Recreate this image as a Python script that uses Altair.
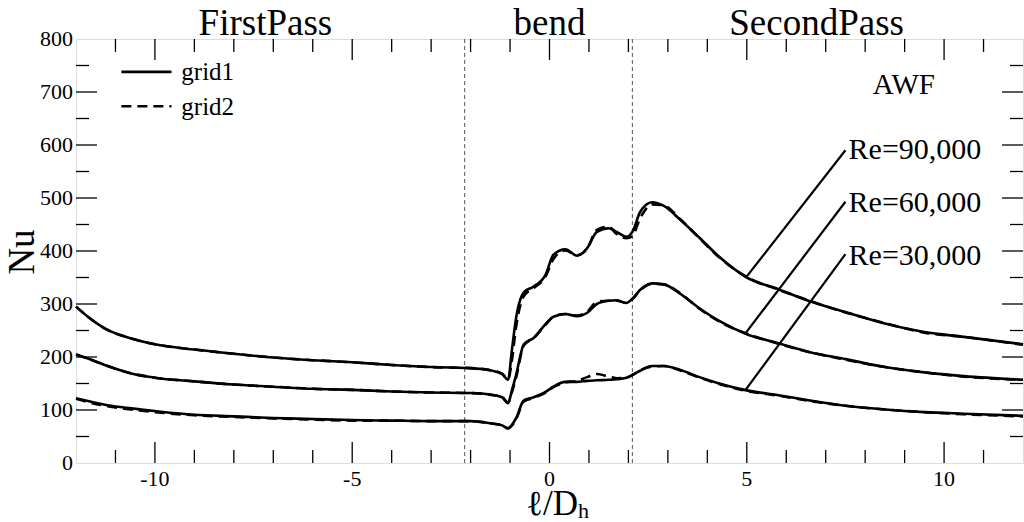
import altair as alt
import pandas as pd

# Streamwise stations l/Dh shared by all Nusselt profiles
xpos = [-12, -11.7, -11.2, -10.6, -10, -9, -8, -7, -6, -5,
        -4, -3, -2, -1.5, -1.2, -1.05, -0.95, -0.85, -0.65, -0.4,
        -0.1, 0.1, 0.4, 0.7, 0.95, 1.2, 1.5, 1.7, 1.95, 2.1,
        2.3, 2.6, 2.9, 3.3, 3.8, 4.3, 5, 5.8, 6.6, 7.5,
        8.5, 9.5, 10.5, 12]

# Re = 90,000
nu90_grid1 = [295, 276, 251, 235, 224, 214, 206, 199, 194, 190,
              185, 181, 179, 175, 168, 157, 215, 272, 322, 333,
              355, 393, 403, 391, 405, 436, 443, 436, 427, 436,
              474, 492, 485, 460, 425, 389, 350, 328, 305, 285,
              263, 247, 238, 224]
nu90_grid2 = [295, 276, 251, 235, 224, 214, 206, 199, 194, 190,
              185, 181, 179, 175, 168, 158, 195, 255, 315, 330,
              352, 385, 401, 392, 404, 440, 446, 432, 424, 428,
              462, 488, 486, 461, 424, 388, 351, 327, 306, 284,
              264, 246, 238, 223]

# Re = 60,000
nu60_grid1 = [205, 197, 183, 169, 161, 154, 148, 144, 140, 138,
              135, 133, 132, 129, 124, 113, 138, 165, 224, 236,
              262, 276, 281, 277, 283, 300, 306, 307, 302, 310,
              327, 339, 337, 320, 292, 268, 243, 226, 209, 196,
              181, 171, 164, 157]
nu60_grid2 = [205, 197, 183, 169, 161, 154, 148, 144, 140, 138,
              135, 133, 132, 129, 124, 114, 134, 160, 222, 236,
              261, 276, 281, 278, 285, 304, 306, 306, 302, 309,
              326, 338, 337, 321, 291, 267, 244, 225, 209, 195,
              181, 171, 163, 157]

# Re = 30,000
nu30_grid1 = [122, 117, 109, 103, 98, 91, 88, 85, 83, 81,
              80, 79, 79, 75, 71, 65, 72, 84, 118, 124,
              134, 144, 153, 153, 155, 156, 157, 158, 161, 166,
              174, 183, 183, 176, 162, 150, 137, 128, 118, 108,
              101, 96, 93, 89]
nu30_grid2 = [121, 115, 107, 101, 96, 90, 87, 84, 82, 80,
              80, 79, 79, 75, 71, 66, 71, 82, 116, 123,
              133, 143, 152, 155, 162, 168, 163, 160, 161, 166,
              175, 182, 183, 175, 161, 149, 136, 127, 117, 108,
              101, 96, 92, 88]

# Section boundaries and section names
bounds = [-2.15, 2.1]
sections = ["FirstPass", "bend", "SecondPass"]
section_x = [-7.2, 0.0, 6.77]

# Tick positions and tick labels
x_major = [-10, -5, 0, 5, 10]
x_major_labels = ["-10", "-5", "0", "5", "10"]
x_minor = [-11, -9, -8, -7, -6, -4, -3, -2, -1, 1, 2, 3, 4, 6, 7, 8, 9, 11]
y_major = [100, 200, 300, 400, 500, 600, 700]
y_minor = [50, 150, 250, 350, 450, 550, 650, 750]
y_labels = [0, 100, 200, 300, 400, 500, 600, 700, 800]

# Reynolds-number callouts: label anchor and the point on each curve
re_labels = ["Re=90,000", "Re=60,000", "Re=30,000"]
re_text_x = [7.58, 7.58, 7.58]
re_text_y = [573, 473, 373]
lead_x0 = [7.5, 7.5, 7.5]
lead_y0 = [590, 493, 394]
lead_x1 = [5.0, 4.96, 4.96]
lead_y1 = [352, 244, 137]

# Legend entries
legend_names = ["grid1", "grid2"]
legend_line_x = [-10.85, -9.58]
legend_y = [738, 673]
legend_text_x = -9.33
legend_text_y = [722, 657]

W, H = 947, 424
FONT = "Liberation Serif"

rows = []
for name, g1, g2 in [("Re=90,000", nu90_grid1, nu90_grid2),
                     ("Re=60,000", nu60_grid1, nu60_grid2),
                     ("Re=30,000", nu30_grid1, nu30_grid2)]:
    for x, a, b in zip(xpos, g1, g2):
        rows.append({"l": x, "Re": name, "grid": "grid1", "Nu": a})
        rows.append({"l": x, "Re": name, "grid": "grid2", "Nu": b})
df = pd.DataFrame(rows)

xs = alt.Scale(domain=[-12, 12], nice=False, zero=False)
ys = alt.Scale(domain=[0, 800], nice=False)


def X(field):
    return alt.X(field, scale=xs, axis=None)


def Y(field):
    return alt.Y(field, scale=ys, axis=None)


solid = alt.Chart(df).transform_filter("datum.grid == 'grid1'").mark_line(
    color="black", strokeWidth=2.6, interpolate="monotone"
).encode(x=X("l:Q"), y=Y("Nu:Q"), detail="Re:N")

dashed = alt.Chart(df).transform_filter("datum.grid == 'grid2'").mark_line(
    color="black", strokeWidth=2.6, strokeDash=[10, 6], interpolate="monotone"
).encode(x=X("l:Q"), y=Y("Nu:Q"), detail="Re:N")

bound_rules = alt.Chart(pd.DataFrame({"b": bounds})).mark_rule(
    color="#555555", strokeWidth=1, strokeDash=[4, 3]
).encode(x=X("b:Q"))

xmaj = pd.DataFrame({"t": x_major, "lab": x_major_labels})
xmin = pd.DataFrame({"t": x_minor})
ymaj = pd.DataFrame({"t": y_major})
ymin = pd.DataFrame({"t": y_minor})
ylab = pd.DataFrame({"t": y_labels, "lab": [str(v) for v in y_labels]})


def xticks(d, y0, y1):
    return alt.Chart(d).mark_rule(color="black", strokeWidth=1.3).encode(
        x=X("t:Q"), y=alt.value(y0), y2=alt.value(y1))


def yticks(d, x0, x1):
    return alt.Chart(d).mark_rule(color="black", strokeWidth=1.3).encode(
        y=Y("t:Q"), x=alt.value(x0), x2=alt.value(x1))


ticks = [
    xticks(xmaj, H, H - 21), xticks(xmaj, 0, 21),
    xticks(xmin, H, H - 13), xticks(xmin, 0, 13),
    yticks(ymaj, 0, 21), yticks(ymaj, W, W - 21),
    yticks(ymin, 0, 13), yticks(ymin, W, W - 13),
]

# Tick labels
x_tick_labels = alt.Chart(xmaj).mark_text(
    font=FONT, fontSize=22, align="center", baseline="top", color="black"
).encode(x=X("t:Q"), y=alt.value(H + 6), text="lab:N")
y_tick_labels = alt.Chart(ylab).mark_text(
    font=FONT, fontSize=22, align="right", baseline="middle", color="black"
).encode(y=Y("t:Q"), x=alt.value(-3), text="lab:N")

leg_df = pd.DataFrame({"name": legend_names, "x0": [legend_line_x[0]] * 2,
                       "x1": [legend_line_x[1]] * 2, "y": legend_y,
                       "tx": [legend_text_x] * 2, "ty": legend_text_y})
leg_solid = alt.Chart(leg_df).transform_filter("datum.name == 'grid1'").mark_rule(
    color="black", strokeWidth=2.6
).encode(x=X("x0:Q"), x2="x1:Q", y=Y("y:Q"))
leg_dash = alt.Chart(leg_df).transform_filter("datum.name == 'grid2'").mark_rule(
    color="black", strokeWidth=2.6, strokeDash=[10, 6]
).encode(x=X("x0:Q"), x2="x1:Q", y=Y("y:Q"))
leg_text = alt.Chart(leg_df).mark_text(
    font=FONT, fontSize=25, align="left", baseline="alphabetic", color="black"
).encode(x=X("tx:Q"), y=Y("ty:Q"), text="name:N")

awf = alt.Chart(pd.DataFrame({"x": [8.98], "y": [697], "t": ["AWF"]})).mark_text(
    font=FONT, fontSize=29, align="center", baseline="alphabetic", color="black"
).encode(x=X("x:Q"), y=Y("y:Q"), text="t:N")

re_df = pd.DataFrame({"t": re_labels, "tx": re_text_x, "ty": re_text_y,
                      "x0": lead_x0, "y0": lead_y0, "x1": lead_x1, "y1": lead_y1})
re_text = alt.Chart(re_df).mark_text(
    font=FONT, fontSize=30, align="left", baseline="alphabetic", color="black"
).encode(x=X("tx:Q"), y=Y("ty:Q"), text="t:N")
leaders = alt.Chart(re_df).mark_rule(color="black", strokeWidth=2.2).encode(
    x=X("x0:Q"), x2="x1:Q", y=Y("y0:Q"), y2="y1:Q")

sec = alt.Chart(pd.DataFrame({"t": sections, "x": section_x})).mark_text(
    font=FONT, fontSize=37, align="center", baseline="alphabetic", color="black"
).encode(x=X("x:Q"), y=alt.value(-4), text="t:N")

nu_title = alt.Chart(pd.DataFrame({"t": ["Nu"]})).mark_text(
    font=FONT, fontSize=37, angle=270, align="center", baseline="middle", color="black"
).encode(x=alt.value(-53), y=alt.value(213), text="t:N")

xl_title = alt.Chart(pd.DataFrame({"t": ["ℓ/D"]})).mark_text(
    font=FONT, fontSize=35, align="right", baseline="alphabetic", color="black"
).encode(x=alt.value(502), y=alt.value(476), text="t:N")
xl_sub = alt.Chart(pd.DataFrame({"t": ["h"]})).mark_text(
    font=FONT, fontSize=22, align="left", baseline="alphabetic", color="black"
).encode(x=alt.value(502), y=alt.value(479), text="t:N")

chart = alt.layer(
    bound_rules, solid, dashed, *ticks, x_tick_labels, y_tick_labels,
    leg_solid, leg_dash, leg_text, awf, leaders, re_text,
    sec, nu_title, xl_title, xl_sub,
).properties(
    width=W, height=H,
    autosize=alt.AutoSizeParams(type="none"),
    padding={"left": 76, "top": 39, "right": 1, "bottom": 59},
).configure_view(
    stroke="black", strokeWidth=2
).configure(background="white")

chart.save("out.html", embed_options={"renderer": "svg", "actions": False})
